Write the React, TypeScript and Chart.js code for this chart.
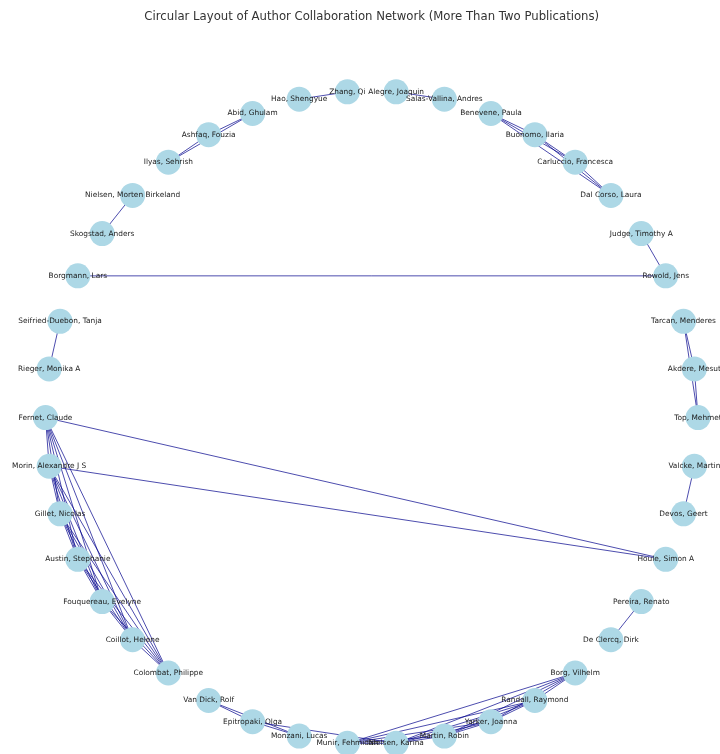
import React, { useEffect, useRef } from "react";
import { Chart, registerables } from "chart.js";

Chart.register(...registerables);

const TITLE = "Circular Layout of Author Collaboration Network (More Than Two Publications)";

// Node order as placed by the circular layout (counter-clockwise from angle 0)
const authors: string[] = [
  "Top, Mehmet",
  "Akdere, Mesut",
  "Tarcan, Menderes",
  "Rowold, Jens",
  "Judge, Timothy A",
  "Dal Corso, Laura",
  "Carluccio, Francesca",
  "Buonomo, Ilaria",
  "Benevene, Paula",
  "Salas-Vallina, Andres",
  "Alegre, Joaquin",
  "Zhang, Qi",
  "Hao, Shengyue",
  "Abid, Ghulam",
  "Ashfaq, Fouzia",
  "Ilyas, Sehrish",
  "Nielsen, Morten Birkeland",
  "Skogstad, Anders",
  "Borgmann, Lars",
  "Seifried-Duebon, Tanja",
  "Rieger, Monika A",
  "Fernet, Claude",
  "Morin, Alexandre J S",
  "Gillet, Nicolas",
  "Austin, Stephanie",
  "Fouquereau, Evelyne",
  "Coillot, Helene",
  "Colombat, Philippe",
  "Van Dick, Rolf",
  "Epitropaki, Olga",
  "Monzani, Lucas",
  "Munir, Fehmidah",
  "Nielsen, Karina",
  "Martin, Robin",
  "Yarker, Joanna",
  "Randall, Raymond",
  "Borg, Vilhelm",
  "De Clercq, Dirk",
  "Pereira, Renato",
  "Houle, Simon A",
  "Devos, Geert",
  "Valcke, Martin",
];

// Groups of co-authors that are fully connected
const cliques: string[][] = [
  ["Top, Mehmet", "Akdere, Mesut", "Tarcan, Menderes"],
  ["Dal Corso, Laura", "Carluccio, Francesca", "Buonomo, Ilaria", "Benevene, Paula"],
  ["Abid, Ghulam", "Ashfaq, Fouzia", "Ilyas, Sehrish"],
  ["Fernet, Claude", "Morin, Alexandre J S", "Gillet, Nicolas", "Austin, Stephanie", "Fouquereau, Evelyne", "Coillot, Helene", "Colombat, Philippe"],
  ["Van Dick, Rolf", "Epitropaki, Olga", "Monzani, Lucas"],
  ["Munir, Fehmidah", "Nielsen, Karina", "Martin, Robin", "Yarker, Joanna", "Randall, Raymond", "Borg, Vilhelm"],
];

// Single collaboration links
const links: [string, string][] = [
  ["Rowold, Jens", "Judge, Timothy A"],
  ["Rowold, Jens", "Borgmann, Lars"],
  ["Salas-Vallina, Andres", "Alegre, Joaquin"],
  ["Zhang, Qi", "Hao, Shengyue"],
  ["Nielsen, Morten Birkeland", "Skogstad, Anders"],
  ["Seifried-Duebon, Tanja", "Rieger, Monika A"],
  ["Fernet, Claude", "Houle, Simon A"],
  ["Morin, Alexandre J S", "Houle, Simon A"],
  ["Epitropaki, Olga", "Nielsen, Karina"],
  ["De Clercq, Dirk", "Pereira, Renato"],
  ["Devos, Geert", "Valcke, Martin"],
];

function layoutPos(name: string) {
  const i = authors.indexOf(name);
  const t = (2 * Math.PI * i) / authors.length;
  return { x: Math.cos(t), y: Math.sin(t) };
}

function allEdges(): [string, string][] {
  const out: [string, string][] = [];
  cliques.forEach((g) => {
    for (let a = 0; a < g.length; a++)
      for (let b = a + 1; b < g.length; b++) out.push([g[a], g[b]]);
  });
  links.forEach((l) => out.push(l));
  return out;
}

const labelPlugin = {
  id: "nodeLabels",
  afterDatasetsDraw(chart: any) {
    const ctx = chart.ctx;
    const xs = chart.scales.x;
    const ys = chart.scales.y;
    ctx.save();
    ctx.font = '7.4px "DejaVu Sans"';
    ctx.fillStyle = "#1a1a1a";
    ctx.textAlign = "center";
    ctx.textBaseline = "middle";
    authors.forEach((n) => {
      const p = layoutPos(n);
      ctx.fillText(n, xs.getPixelForValue(p.x), ys.getPixelForValue(p.y));
    });
    // title, centred over the circle's centre
    ctx.font = '11.7px "DejaVu Sans"';
    ctx.fillStyle = "#333333";
    ctx.fillText(TITLE, xs.getPixelForValue(0), 17);
    ctx.restore();
  },
};

export default function App() {
  const ref = useRef<HTMLCanvasElement | null>(null);
  useEffect(() => {
    if (!ref.current) return;
    const edgeSets = allEdges().map(([a, b]) => ({
      type: "scatter" as const,
      data: [layoutPos(a), layoutPos(b)],
      showLine: true,
      borderColor: "rgba(0,0,139,0.7)",
      borderWidth: 1,
      pointRadius: 0,
      pointHoverRadius: 0,
      order: 1,
      clip: false as any,
    }));
    const nodeSet = {
      type: "scatter" as const,
      data: authors.map((n) => layoutPos(n)),
      backgroundColor: "#add8e6",
      borderWidth: 0,
      pointRadius: 12.5,
      pointHoverRadius: 12.5,
      order: 0,
      clip: false as any,
    };
    const chart = new Chart(ref.current, {
      type: "scatter",
      data: { datasets: [nodeSet, ...edgeSets] as any },
      options: {
        animation: false,
        responsive: false,
        layout: { padding: { top: 31, left: 0, right: 0, bottom: 0 }, autoPadding: false },
        plugins: {
          legend: { display: false },
          tooltip: { enabled: false },
          title: { display: false },
        },
        scales: {
          x: { display: false, min: -1.1395, max: 1.0674 },
          y: { display: false, min: -1.0299, max: 1.1835 },
        },
      },
      plugins: [labelPlugin],
    });
    return () => chart.destroy();
  }, []);
  return (
    <div style={{ position: "fixed", left: 0, top: 0, width: 720, height: 754, background: "#fff" }}>
      <canvas ref={ref} width={720} height={754} />
    </div>
  );
}
